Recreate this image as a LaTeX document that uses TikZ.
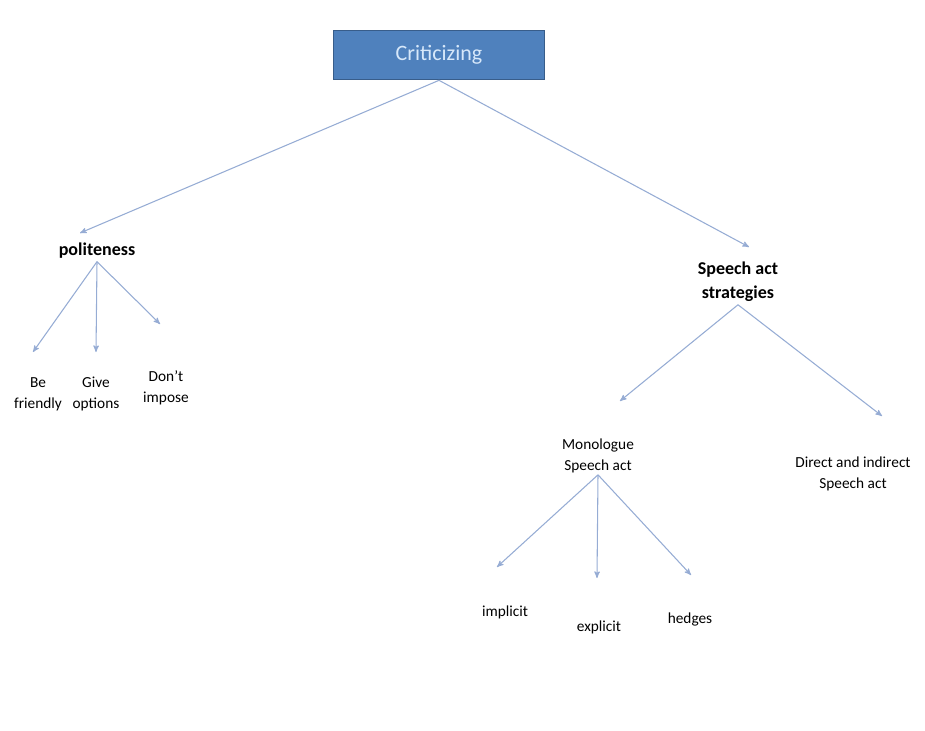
\documentclass[tikz,border=0pt]{standalone}
\usepackage{fontspec}
\setmainfont{Carlito}
\usepackage{tikz}
\usetikzlibrary{arrows}

\definecolor{boxblue}{RGB}{79,129,189}
\definecolor{boxedge}{RGB}{56,93,138}
\definecolor{boxtext}{RGB}{215,232,250}
\definecolor{linkblue}{RGB}{150,172,212}

\begin{document}
\begin{tikzpicture}[x=0.75pt,y=-0.75pt,
    rootbox/.style={draw=boxedge,line width=1pt,fill=boxblue,text=boxtext,
        minimum width=158pt,minimum height=37pt,font=\fontsize{16.5}{19}\selectfont},
    heading/.style={font=\bfseries\fontsize{13.5}{18}\selectfont,align=center,inner sep=2pt},
    leaf/.style={font=\fontsize{11.5}{16}\selectfont,align=center,inner sep=1pt},
    link/.style={draw=linkblue,line width=0.8pt,-stealth'}]

\useasboundingbox (0,0) rectangle (925,731);

\node[rootbox] (crit) at (439,55) {Criticizing};

\node[heading] (pol) at (97,251) {politeness};
\node[heading] (sas) at (738,282) {Speech act\\strategies};

\node[leaf] (bf) at (38,394) {Be\\friendly};
\node[leaf] (go) at (96,394) {Give\\options};
\node[leaf] (di) at (166,388) {Don’t\\impose};

\node[leaf] (mono) at (598,456) {Monologue\\Speech act};
\node[leaf] (dis) at (853,474) {Direct and indirect\\Speech act};

\node[leaf] (imp) at (505,612) {implicit};
\node[leaf] (exp) at (599,627) {explicit};
\node[leaf] (hed) at (690,619) {hedges};

\coordinate (c1) at (80,233);
\coordinate (c2) at (749,247);
\coordinate (p1) at (33,352);
\coordinate (p2) at (96,352);
\coordinate (p3) at (160,324);
\coordinate (s1) at (620,401);
\coordinate (s2) at (882,416);
\coordinate (m1) at (497,567);
\coordinate (m2) at (597,578);
\coordinate (m3) at (691,575);

\foreach \e in {c1,c2}
    \draw[link] (crit.south) -- (\e);

\foreach \e in {p1,p2,p3}
    \draw[link] (pol.south) -- (\e);

\foreach \e in {s1,s2}
    \draw[link] (sas.south) -- (\e);

\foreach \e in {m1,m2,m3}
    \draw[link] (mono.south) -- (\e);

\end{tikzpicture}
\end{document}
